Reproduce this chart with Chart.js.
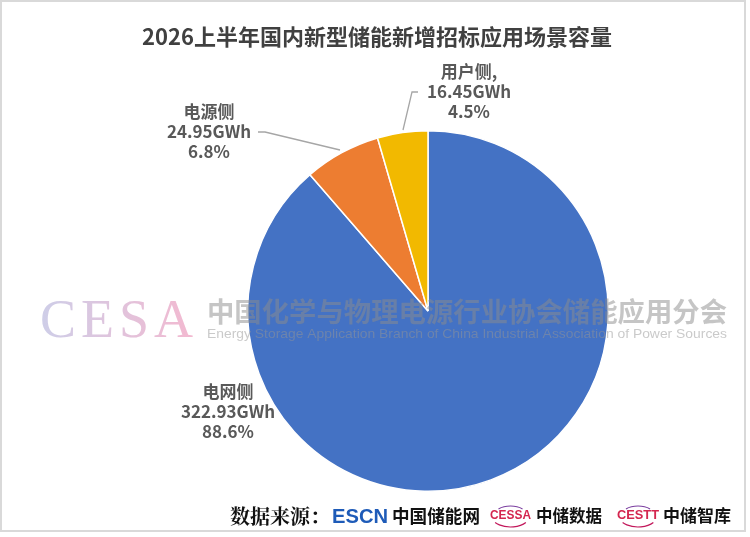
<!DOCTYPE html>
<html><head><meta charset="utf-8">
<script src="https://cdn.jsdelivr.net/npm/chart.js@4/dist/chart.umd.min.js"></script>
<style>
html,body{margin:0;padding:0;background:#fff;}
#wrap{position:relative;width:750px;height:537px;}
</style></head>
<body><div id="wrap"><canvas id="c" width="750" height="537"></canvas></div>
<script>
const categories = ['电网侧', '电源侧', '用户侧'];
const capacityGWh = [322.93, 24.95, 16.45];
const percentLabels = ['88.6%', '6.8%', '4.5%'];
const sliceColors = ['#4472C4', '#ED7D31', '#F2B900'];
const titleText = '2026上半年国内新型储能新增招标应用场景容量';

const labelFont = 'bold 17px "Noto Sans CJK SC", "Noto Sans", sans-serif';
const labelSpec = [
  {x: 228, y: 392, line: null, first: categories[0]},
  {x: 209, y: 112, line: [[258,132],[265,132],[340,150]], first: categories[1]},
  {x: 469, y: 72, line: [[418,92],[412,92],[403,130]], first: categories[2] + ','}
];

const overlay = {
  id: 'overlay',
  afterDraw(chart) {
    const ctx = chart.ctx;
    ctx.save();
    // title
    ctx.fillStyle = '#404040';
    ctx.font = 'bold 22px "Noto Sans CJK SC", sans-serif';
    ctx.textAlign = 'center';
    ctx.textBaseline = 'middle';
    ctx.fillText(titleText, 377, 37);
    // labels
    ctx.font = labelFont;
    ctx.fillStyle = '#595959';
    labelSpec.forEach((s, i) => {
      const lines = [s.first, capacityGWh[i].toFixed(2) + 'GWh', percentLabels[i]];
      lines.forEach((t, k) => ctx.fillText(t, s.x, s.y + k * 20));
      if (s.line) {
        ctx.strokeStyle = '#A6A6A6';
        ctx.lineWidth = 1.3;
        ctx.beginPath();
        s.line.forEach((p, j) => j ? ctx.lineTo(p[0], p[1]) : ctx.moveTo(p[0], p[1]));
        ctx.stroke();
      }
    });
    // watermark
    ctx.textAlign = 'left';
    ctx.textBaseline = 'alphabetic';
    ctx.font = '54px "Liberation Serif", serif';
    const g = ctx.createLinearGradient(40, 0, 195, 0);
    g.addColorStop(0, 'rgba(185,185,222,0.7)');
    g.addColorStop(1, 'rgba(238,155,188,0.7)');
    ctx.fillStyle = g;
    let x = 40;
    ['C','E','S','A'].forEach(ch => { ctx.fillText(ch, x, 337); x += ctx.measureText(ch).width + 5; });
    ctx.fillStyle = 'rgba(140,140,140,0.5)';
    ctx.font = 'bold 27px "Noto Sans CJK SC", sans-serif';
    let cn = '中国化学与物理电源行业协会储能应用分会';
    let w = ctx.measureText(cn).width;
    ctx.save(); ctx.translate(207, 322); ctx.scale(520 / w, 1); ctx.fillText(cn, 0, 0); ctx.restore();
    ctx.fillStyle = 'rgba(150,150,150,0.5)';
    ctx.font = '13px "Liberation Sans", Arial, sans-serif';
    let en = 'Energy Storage Application Branch of China Industrial Association of Power Sources';
    w = ctx.measureText(en).width;
    ctx.save(); ctx.translate(207, 338); ctx.scale(520 / w, 1); ctx.fillText(en, 0, 0); ctx.restore();
    // footer
    const fy = 516;
    ctx.textBaseline = 'middle';
    const fitText = (t, font, color, x0, x1, y) => {
      ctx.font = font; ctx.fillStyle = color;
      const tw = ctx.measureText(t).width;
      ctx.save(); ctx.translate(x0, y); ctx.scale((x1 - x0) / tw, 1); ctx.fillText(t, 0, 0); ctx.restore();
    };
    fitText('数据来源：', 'bold 20px "Noto Serif CJK SC", "Noto Sans CJK SC", sans-serif', '#111', 230, 330, fy);
    fitText('ESCN', 'bold 21px "Liberation Sans", Arial, sans-serif', '#1E5BB8', 332, 388, fy + 1);
    fitText('中国储能网', 'bold 18px "Noto Sans CJK SC", sans-serif', '#111', 392, 480, fy);
    const drawLogo = (txt, lx, rx, cnTxt, cx, crx) => {
      fitText(txt, 'bold 12px "Liberation Sans", Arial, sans-serif', '#D4264F', lx, rx, fy);
      const mid = (lx + rx) / 2;
      ctx.lineWidth = 1.2;
      ctx.strokeStyle = '#C2185B';
      ctx.beginPath(); ctx.ellipse(mid, fy, 19, 11, 0, Math.PI * 0.2, Math.PI * 0.8); ctx.stroke();
      ctx.strokeStyle = '#7B3FA0';
      ctx.beginPath(); ctx.ellipse(mid, fy, 17, 10, 0, Math.PI * 1.25, Math.PI * 1.75); ctx.stroke();
      fitText(cnTxt, 'bold 17px "Noto Sans CJK SC", sans-serif', '#111', cx, crx, fy);
    };
    drawLogo('CESSA', 490, 531, '中储数据', 536, 602);
    drawLogo('CESTT', 617, 659, '中储智库', 663, 731);
    // frame
    ctx.strokeStyle = '#D9D9D9';
    ctx.lineWidth = 2;
    ctx.strokeRect(1, 1, 744, 530);
    ctx.restore();
  }
};

new Chart(document.getElementById('c'), {
  type: 'pie',
  data: {
    labels: categories,
    datasets: [{
      data: capacityGWh,
      backgroundColor: sliceColors,
      borderColor: '#ffffff',
      borderWidth: 1.5
    }]
  },
  options: {
    responsive: false,
    animation: false,
    layout: {padding: {left: 247, right: 141, top: 130, bottom: 45}},
    plugins: {legend: {display: false}, tooltip: {enabled: false}, title: {display: false}}
  },
  plugins: [overlay]
});
</script></body></html>
